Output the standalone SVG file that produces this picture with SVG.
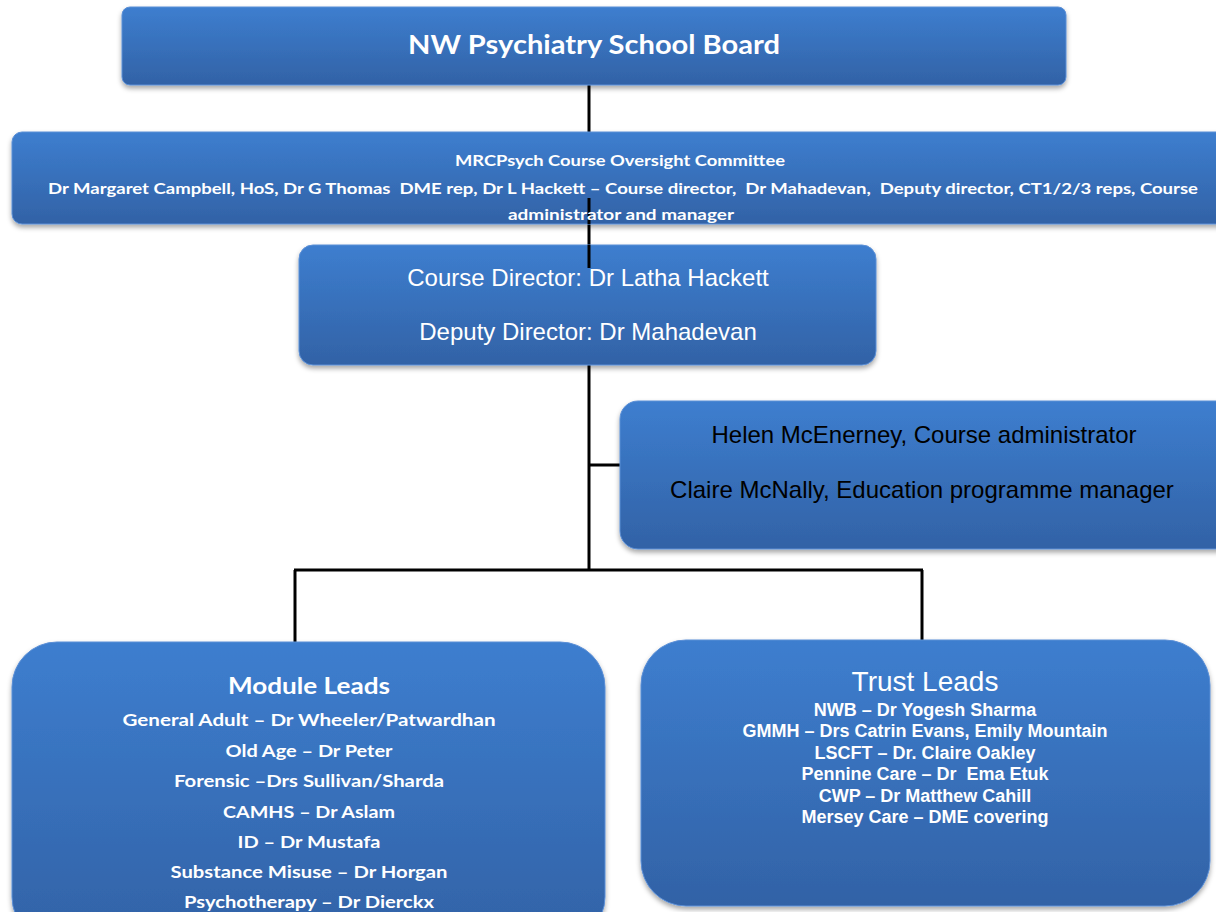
<svg xmlns="http://www.w3.org/2000/svg" width="1216" height="912" viewBox="0 0 1216 912">
<defs>
<linearGradient id="g" x1="0" y1="0" x2="0" y2="1">
<stop offset="0" stop-color="#3d7ecf"/>
<stop offset="1" stop-color="#3262a6"/>
</linearGradient>
<filter id="sh" x="-5%" y="-10%" width="110%" height="130%">
<feDropShadow dx="0" dy="3" stdDeviation="2.5" flood-color="#000" flood-opacity="0.35"/>
</filter>
<style>
.box{fill:url(#g);stroke:#5b8fd6;stroke-width:1;filter:url(#sh)}
.c{fill:#fff;font-family:Lato,"Open Sans",sans-serif;font-weight:bold;text-anchor:middle}
.a{fill:#fff;font-family:"Liberation Sans",Arial,sans-serif;text-anchor:middle}
.ab{fill:#fff;font-family:"Liberation Sans",Arial,sans-serif;font-weight:bold;text-anchor:middle;font-size:18px}
.k{fill:#000;font-family:"Liberation Sans",Arial,sans-serif;text-anchor:middle;font-size:24px}
.ln{stroke:#000;stroke-width:3;fill:none}
</style>
</defs>
<rect width="1216" height="912" fill="#fff"/>
<g id="connectors">
<line class="ln" x1="589" y1="85" x2="589" y2="246"/>
<line class="ln" x1="589" y1="365" x2="589" y2="571"/>
<line class="ln" x1="589" y1="465" x2="622" y2="465"/>
<line class="ln" x1="294" y1="570" x2="923" y2="570"/>
<line class="ln" x1="295" y1="570" x2="295" y2="642"/>
<line class="ln" x1="922" y1="570" x2="922" y2="641"/>
</g>
<g id="board">
<rect class="box" x="122" y="7" width="944" height="78" rx="8"/>
<text class="c" x="594" y="54" font-size="26" textLength="372" lengthAdjust="spacingAndGlyphs">NW Psychiatry School Board</text>
</g>
<g id="committee">
<rect class="box" x="12" y="132" width="1220" height="92" rx="10"/>
<line class="ln" x1="589" y1="198" x2="589" y2="224"/>
<text class="c" x="620" y="166" font-size="15" textLength="330" lengthAdjust="spacingAndGlyphs">MRCPsych Course Oversight Committee</text>
<text class="c" x="623" y="194" font-size="15" textLength="1150" lengthAdjust="spacingAndGlyphs" xml:space="preserve">Dr Margaret Campbell, HoS, Dr G Thomas  DME rep, Dr L Hackett – Course director,  Dr Mahadevan,  Deputy director, CT1/2/3 reps, Course</text>
<text class="c" x="621" y="220" font-size="15" textLength="226" lengthAdjust="spacingAndGlyphs">administrator and manager</text>
</g>
<g id="directors">
<rect class="box" x="299" y="245" width="577" height="120" rx="14"/>
<line class="ln" x1="589" y1="245" x2="589" y2="268"/>
<text class="a" x="588" y="286" font-size="24">Course Director: Dr Latha Hackett</text>
<text class="a" x="588" y="340" font-size="24">Deputy Director: Dr Mahadevan</text>
</g>
<g id="admin">
<rect class="box" x="620" y="401" width="620" height="148" rx="18"/>
<text class="k" x="924" y="443">Helen McEnerney, Course administrator</text>
<text class="k" x="922" y="498">Claire McNally, Education programme manager</text>
</g>
<g id="module-leads">
<rect class="box" x="12" y="642" width="593" height="300" rx="45"/>
<text class="c" x="309" y="694" font-size="23" textLength="162" lengthAdjust="spacingAndGlyphs">Module Leads</text>
<text class="c" x="309" y="726" font-size="17" textLength="373" lengthAdjust="spacingAndGlyphs">General Adult – Dr Wheeler/Patwardhan</text>
<text class="c" x="309" y="757" font-size="17" textLength="167" lengthAdjust="spacingAndGlyphs">Old Age – Dr Peter</text>
<text class="c" x="309" y="787" font-size="17" textLength="270" lengthAdjust="spacingAndGlyphs">Forensic –Drs Sullivan/Sharda</text>
<text class="c" x="309" y="818" font-size="17" textLength="172" lengthAdjust="spacingAndGlyphs">CAMHS – Dr Aslam</text>
<text class="c" x="309" y="848" font-size="17" textLength="143" lengthAdjust="spacingAndGlyphs">ID – Dr Mustafa</text>
<text class="c" x="309" y="878" font-size="17" textLength="277" lengthAdjust="spacingAndGlyphs">Substance Misuse – Dr Horgan</text>
<text class="c" x="309" y="908" font-size="17" textLength="250" lengthAdjust="spacingAndGlyphs">Psychotherapy – Dr Dierckx</text>
</g>
<g id="trust-leads">
<rect class="box" x="641" y="640" width="569" height="266" rx="45"/>
<text class="a" x="925" y="691" font-size="28">Trust Leads</text>
<text class="ab" x="925" y="716">NWB – Dr Yogesh Sharma</text>
<text class="ab" x="925" y="737">GMMH – Drs Catrin Evans, Emily Mountain</text>
<text class="ab" x="925" y="759">LSCFT – Dr. Claire Oakley</text>
<text class="ab" x="925" y="780" xml:space="preserve">Pennine Care – Dr  Ema Etuk</text>
<text class="ab" x="925" y="802">CWP – Dr Matthew Cahill</text>
<text class="ab" x="925" y="823">Mersey Care – DME covering</text>
</g>
</svg>
